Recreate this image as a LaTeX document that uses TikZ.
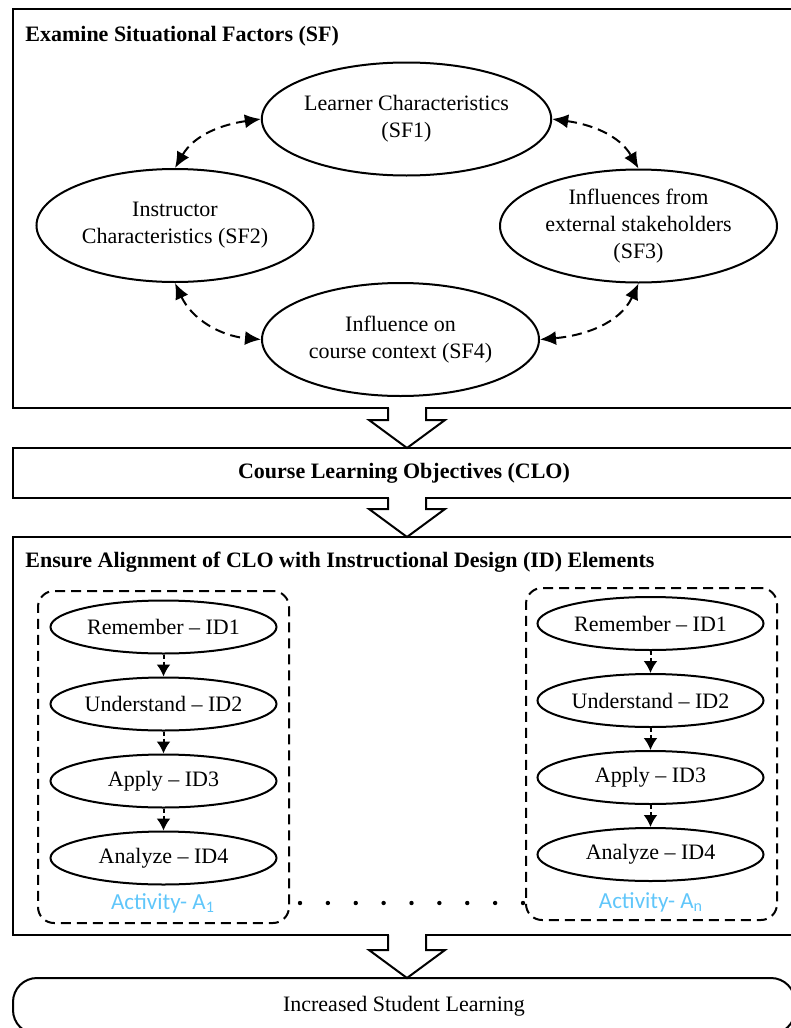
\documentclass[tikz,border=0pt]{standalone}
\usepackage{fontspec}
\setmainfont{Liberation Serif}
\newfontfamily\actfont{Carlito}
\usetikzlibrary{shapes.geometric, arrows.meta, positioning, calc}
\definecolor{actblue}{RGB}{96,198,250}

% open block arrow pointing down from #1 (on a frame) to #2 (tip)
\newcommand{\hollowdown}[2]{%
  \fill[white] ($(#1)+(-18,-3)$) rectangle ($(#1)+(18,3)$);
  \draw[hollow] ($(#1)+(-19,0)$) -- ($(#2)+(-19,-28)$) -- ($(#2)+(-38,-28)$)
    -- (#2) -- ($(#2)+(38,-28)$) -- ($(#2)+(19,-28)$) -- ($(#1)+(19,0)$);
}

\begin{document}
\begin{tikzpicture}[
  x=0.5pt, y=-0.5pt,
  font=\fontsize{11}{13.5}\selectfont,
  node distance=11pt,
  frame/.style={rectangle, draw=black, line width=1pt, minimum width=391pt,
                anchor=north west, inner sep=0pt, outer sep=0pt},
  heading/.style={font=\fontsize{11}{13.5}\selectfont\bfseries, inner sep=0pt,
                  anchor=base west},
  sfnode/.style={ellipse, draw=black, line width=1pt, minimum width=138.5pt,
                 minimum height=56.5pt, align=center, inner sep=0pt},
  idnode/.style={ellipse, draw=black, line width=1pt, minimum width=113pt,
                 minimum height=26.5pt, inner sep=0pt},
  actbox/.style={rectangle, draw=black, dashed, dash pattern=on 5pt off 3pt,
                 line width=1pt, rounded corners=8pt, minimum width=125.5pt,
                 minimum height=166pt, anchor=north west, inner sep=0pt},
  actlbl/.style={font=\actfont\fontsize{11.5}{13}\selectfont, text=actblue,
                 inner sep=0pt},
  dasharr/.style={{Latex[length=8pt,width=7pt]}-{Latex[length=8pt,width=7pt]},
                  dash pattern=on 5pt off 3pt, line width=1pt},
  idarr/.style={-{Latex[length=6pt,width=7pt]}, dash pattern=on 2pt off 1.5pt,
                line width=1pt},
  hollow/.style={draw=black, line width=1pt},
]
\useasboundingbox (0,0) rectangle (791,1028);

% outer frames
\node[frame, minimum height=199.5pt] (sf) at (13,9) {};
\node[heading] (sftitle) at (25,41) {Examine Situational Factors (SF)};
\node[frame, minimum height=25pt, font=\fontsize{11}{13.5}\selectfont\bfseries]
  (clo) at (13,448) {Course Learning Objectives (CLO)};
\node[frame, minimum height=199pt] (id) at (13,537) {};
\node[heading] (idtitle) at (25,567)
  {Ensure Alignment of CLO with Instructional Design (ID) Elements};
\node[frame, rounded corners=12pt, minimum height=28pt] (learn) at (13,978)
  {Increased Student Learning};

% situational factors
\node[sfnode] (sf1) at (406.5,119) {Learner Characteristics\\(SF1)};
\node[sfnode] (sf2) at (175,225.5) {Instructor\\Characteristics (SF2)};
\node[sfnode] (sf3) at (638.5,226) {Influences from\\external stakeholders\\(SF3)};
\node[sfnode] (sf4) at (400.5,339.5) {Influence on\\course context (SF4)};
\draw[dasharr] (sf1.west) to[out=188,in=60] (sf2.north);
\draw[dasharr] (sf2.south) to[out=-65,in=175] (sf4.west);
\draw[dasharr] (sf1.east) to[out=-8,in=120] (sf3.north);
\draw[dasharr] (sf3.south) to[out=245,in=5] (sf4.east);

% activity A1
\node[actbox] (act1) at (37,590) {};
\node[idnode] (la1) at (163.5,627) {Remember -- ID1};
\node[idnode, below=of la1] (la2) {Understand -- ID2};
\node[idnode, below=of la2] (la3) {Apply -- ID3};
\node[idnode, below=of la3] (la4) {Analyze -- ID4};
\node[actlbl] (lbl1) at (163,903) {Activity- A\textsubscript{1}};
\draw[idarr] (la1) -- (la2);
\draw[idarr] (la2) -- (la3);
\draw[idarr] (la3) -- (la4);

% activity An
\node[actbox] (act2) at (525,587) {};
\node[idnode] (ra1) at (650.5,623.5) {Remember -- ID1};
\node[idnode, below=of ra1] (ra2) {Understand -- ID2};
\node[idnode, below=of ra2] (ra3) {Apply -- ID3};
\node[idnode, below=of ra3] (ra4) {Analyze -- ID4};
\node[actlbl] (lbl2) at (651,902) {Activity- A\textsubscript{n}};
\draw[idarr] (ra1) -- (ra2);
\draw[idarr] (ra2) -- (ra3);
\draw[idarr] (ra3) -- (ra4);

% dots between the activities
\foreach \k in {0,...,8}
  \fill (300+27.875*\k,903) circle (1.1pt);

% block arrows between the stages
\coordinate (axis) at (407,0);
\coordinate (a1s) at (sf.south -| axis);
\coordinate (a1t) at (clo.north -| axis);
\coordinate (a2s) at (clo.south -| axis);
\coordinate (a2t) at (id.north -| axis);
\coordinate (a3s) at (id.south -| axis);
\coordinate (a3t) at (learn.north -| axis);
\hollowdown{a1s}{a1t}
\hollowdown{a2s}{a2t}
\hollowdown{a3s}{a3t}
\end{tikzpicture}
\end{document}
